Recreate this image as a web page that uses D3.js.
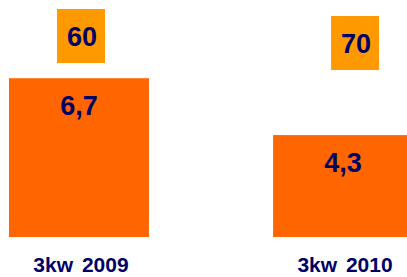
<!DOCTYPE html>
<html>
<head>
<meta charset="utf-8">
<script src="https://cdn.jsdelivr.net/npm/d3@7"></script>
<style>
  html, body { margin: 0; padding: 0; background: #fff; }
  svg { display: block; font-family: "Liberation Sans", Arial, sans-serif; font-weight: bold; }
</style>
</head>
<body>
<div id="chart"></div>
<script>
// datos
const categories = ['3kw 2009', '3kw 2010'];
const values = [6.7, 4.3];
const valueLabels = ['6,7', '4,3'];
const boxLabels = ['60', '70'];

// layout
const width = 407, height = 277;
const baseY = 237;
const boxLayout = [{ dx: 48, y: 9 }, { dx: 58, y: 16 }];  // cajas naranjas claras
const boxW = 48, boxH = 54;
const navy = '#000066';

const svg = d3.select('#chart').append('svg')
    .attr('width', width)
    .attr('height', height);

const x = d3.scaleBand()
    .domain(categories)
    .range([9, 413])
    .paddingInner(0.47)
    .paddingOuter(0);

const y = d3.scaleLinear()
    .domain([0, 10])
    .range([baseY, 0]);

const data = categories.map((c, i) => ({
    cat: c, value: values[i], label: valueLabels[i], box: boxLabels[i], layout: boxLayout[i]
}));

// barras
svg.selectAll('.bar')
    .data(data)
    .enter()
    .append('rect')
    .attr('class', 'bar')
    .attr('x', d => x(d.cat))
    .attr('y', d => y(d.value))
    .attr('width', x.bandwidth())
    .attr('height', d => baseY - y(d.value))
    .attr('fill', '#FF6600');

// etiquetas de valor
svg.selectAll('.val')
    .data(data)
    .enter()
    .append('text')
    .attr('class', 'val')
    .attr('x', d => x(d.cat) + x.bandwidth() / 2)
    .attr('y', d => y(d.value) + 37)
    .attr('text-anchor', 'middle')
    .attr('font-size', 27)
    .attr('fill', navy)
    .text(d => d.label);

// cajas superiores
const boxes = svg.selectAll('.box')
    .data(data)
    .enter()
    .append('g')
    .attr('class', 'box')
    .attr('transform', d => `translate(${x(d.cat) + d.layout.dx},${d.layout.y})`);

boxes.append('rect')
    .attr('width', boxW)
    .attr('height', boxH)
    .attr('fill', '#FF9900');

boxes.append('text')
    .attr('x', boxW / 2 + 1)
    .attr('y', 37)
    .attr('text-anchor', 'middle')
    .attr('font-size', 27)
    .attr('fill', navy)
    .text(d => d.box);

// eje x (solo etiquetas)
const xAxis = svg.append('g')
    .attr('transform', `translate(2,${baseY})`)
    .call(d3.axisBottom(x).tickSize(0).tickPadding(0));

xAxis.select('.domain').remove();
xAxis.selectAll('text')
    .attr('dy', null)
    .attr('y', 35)
    .attr('font-size', 21)
    .attr('word-spacing', 3)
    .attr('font-family', '"Liberation Sans", Arial, sans-serif')
    .attr('font-weight', 'bold')
    .attr('fill', navy);
</script>
</body>
</html>
